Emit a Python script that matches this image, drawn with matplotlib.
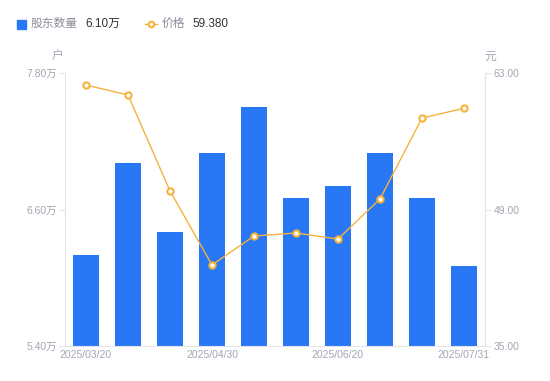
import numpy as np
import matplotlib.pyplot as plt
from matplotlib.lines import Line2D
from matplotlib.patches import Rectangle

plt.rcParams['font.family'] = ['Liberation Sans', 'Noto Sans CJK SC', 'DejaVu Sans']

# Datos
fechas = ['2025/03/20', '2025/03/31', '2025/04/10', '2025/04/30', '2025/05/20',
          '2025/05/31', '2025/06/20', '2025/06/30', '2025/07/10', '2025/07/31']
accionistas = [6.20, 7.01, 6.40, 7.10, 7.50, 6.70, 6.81, 7.10, 6.70, 6.10]  # 万户
precio = [61.77, 60.74, 50.90, 43.31, 46.28, 46.59, 45.97, 50.08, 58.38, 59.38]  # 元

azul = '#2878f5'
naranja = '#f7b23b'
gris = '#a3a6b4'
linea_eje = '#e3e5ea'

fig = plt.figure(figsize=(5.5, 3.81), dpi=100)
ax = fig.add_axes([65 / 550, 35 / 381, 420 / 550, 273 / 381])
ax2 = ax.twinx()

x = np.arange(len(fechas))
ax.bar(x, accionistas, width=0.6, color=azul, zorder=2)
ax.set_ylim(5.40, 7.80)
ax.set_xlim(-0.5, len(fechas) - 0.5)
ax.set_yticks([5.40, 6.60, 7.80])
ax.set_yticklabels(['5.40万', '6.60万', '7.80万'])
ax.set_xticks([0, 3, 6, 9])
ax.set_xticklabels([fechas[i] for i in [0, 3, 6, 9]])

ax2.plot(x, precio, color=naranja, linewidth=1, marker='o', markersize=4.5,
         markerfacecolor='white', markeredgecolor=naranja, markeredgewidth=1.5)
ax2.set_ylim(35, 63)
ax2.set_yticks([35, 49, 63])
ax2.set_yticklabels(['35.00', '49.00', '63.00'])

for a in (ax, ax2):
    for s in a.spines.values():
        s.set_visible(False)
ax.spines['left'].set_visible(True)
ax.spines['left'].set_color(linea_eje)
ax.spines['bottom'].set_visible(True)
ax.spines['bottom'].set_color(linea_eje)
ax2.spines['right'].set_visible(True)
ax2.spines['right'].set_color(linea_eje)

ax.tick_params(axis='y', colors=linea_eje, labelcolor=gris, labelsize=7.5, length=4, pad=2)
ax.tick_params(axis='x', length=0, labelcolor=gris, labelsize=7.5, pad=3)
ax2.tick_params(axis='y', colors=linea_eje, labelcolor=gris, labelsize=7.5, length=4, pad=2)

# Unidades
fig.text(58 / 550, 1 - 57 / 381, '户', color=gris, fontsize=8.5, ha='center', va='center')
fig.text(490 / 550, 1 - 57 / 381, '元', color=gris, fontsize=8.5, ha='center', va='center')

# Leyenda
fig.add_artist(Rectangle((17 / 550, 1 - 29 / 381), 9 / 550, 9 / 381,
                         transform=fig.transFigure, color=azul))
fig.text(31 / 550, 1 - 24 / 381, '股东数量', color='#8a8d99', fontsize=8.5, va='center')
fig.text(85 / 550, 1 - 24 / 381, '6.10万', color='#333333', fontsize=8.5, va='center')
fig.add_artist(Line2D([145 / 550, 157 / 550], [1 - 24 / 381, 1 - 24 / 381],
                      transform=fig.transFigure, color=naranja, linewidth=1))
fig.add_artist(Line2D([151 / 550], [1 - 24 / 381], transform=fig.transFigure,
                      marker='o', markersize=4, markerfacecolor='white',
                      markeredgecolor=naranja, markeredgewidth=1.5))
fig.text(162 / 550, 1 - 24 / 381, '价格', color='#8a8d99', fontsize=8.5, va='center')
fig.text(192 / 550, 1 - 24 / 381, '59.380', color='#333333', fontsize=8.5, va='center')

fig.savefig('out.png', dpi=100)
